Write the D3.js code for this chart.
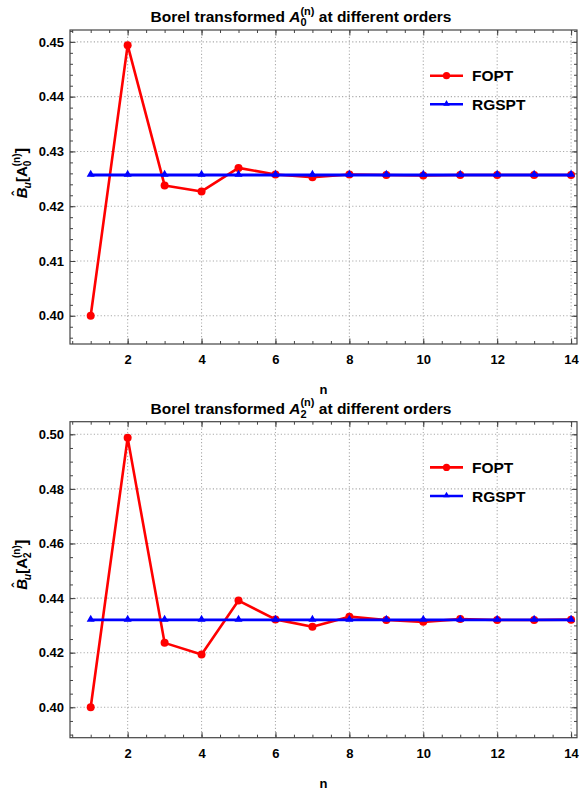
<!DOCTYPE html>
<html>
<head>
<meta charset="utf-8">
<script src="https://cdn.jsdelivr.net/npm/d3@7"></script>
<style>
body { margin: 0; background: #fff; }
text { font-family: "Liberation Sans", Arial, sans-serif; font-weight: bold; fill: #000; }
</style>
</head>
<body>
<svg width="579" height="793"></svg>
<script>
var orders = [1, 2, 3, 4, 5, 6, 7, 8, 9, 10, 11, 12, 13, 14];

// A0 panel
var foptA0 = [0.4000, 0.4494, 0.4238, 0.4227, 0.4270, 0.4258, 0.4253, 0.4258, 0.4257, 0.4256, 0.4257, 0.4257, 0.4257, 0.4257];
var rgsptA0 = [0.4257, 0.4257, 0.4257, 0.4257, 0.4257, 0.4257, 0.4257, 0.4257, 0.4257, 0.4257, 0.4257, 0.4257, 0.4257, 0.4257];

// A2 panel
var foptA2 = [0.4000, 0.4987, 0.4236, 0.4193, 0.4391, 0.4322, 0.4295, 0.4332, 0.4320, 0.4313, 0.4323, 0.4320, 0.4320, 0.4321];
var rgsptA2 = [0.4320, 0.4320, 0.4320, 0.4320, 0.4320, 0.4320, 0.4320, 0.4320, 0.4320, 0.4320, 0.4320, 0.4320, 0.4320, 0.4320];

var xTicks = [2, 4, 6, 8, 10, 12, 14];
var yTicksA0 = [0.40, 0.41, 0.42, 0.43, 0.44, 0.45];
var yTicksA2 = [0.40, 0.42, 0.44, 0.46, 0.48, 0.50];
var seriesNames = ["FOPT", "RGSPT"];
var seriesColors = ["#ff0000", "#0000ff"];

var svg = d3.select("svg");

var left = 70, right = 577;
var x = d3.scaleLinear().domain([0.44, 14.16]).range([left, right]);

var panels = [
    {top: 30, bottom: 344, ydom: [0.39485, 0.45217], yTicks: yTicksA0, minor: 0.002, fopt: foptA0, rgspt: rgsptA0, sub: "0"},
    {top: 421.7, bottom: 737.7, ydom: [0.38886, 0.50462], yTicks: yTicksA2, minor: 0.005, fopt: foptA2, rgspt: rgsptA2, sub: "2"}
];

panels.forEach(drawPanel);

function range(lo, hi, step) {
    var out = [];
    for (var v = Math.ceil(lo / step - 1e-9) * step; v <= hi + 1e-9; v += step) out.push(+v.toFixed(5));
    return out;
}

function drawPanel(p) {
    var g = svg.append("g");
    var y = d3.scaleLinear().domain(p.ydom).range([p.bottom, p.top]);

    // dotted grid
    g.append("g").selectAll("line").data(xTicks).join("line")
        .attr("x1", d => x(d)).attr("x2", d => x(d))
        .attr("y1", p.top).attr("y2", p.bottom)
        .attr("stroke", "#ababab").attr("stroke-width", 1.1)
        .attr("stroke-dasharray", "1.2,2.2");
    g.append("g").selectAll("line").data(p.yTicks).join("line")
        .attr("x1", left).attr("x2", right)
        .attr("y1", d => y(d)).attr("y2", d => y(d))
        .attr("stroke", "#ababab").attr("stroke-width", 1.1)
        .attr("stroke-dasharray", "1.2,2.2");

    var xMinor = range(0.5, 14.1, 0.5);
    var yMinor = range(p.ydom[0], p.ydom[1], p.minor);

    // frame axes, ticks pointing inwards
    function axis(gen, tx, ty, scale, major, minorVals, labels) {
        var a = g.append("g").attr("transform", "translate(" + tx + "," + ty + ")");
        a.call(gen(scale).tickValues(minorVals).tickSize(-3).tickFormat(""));
        var b = g.append("g").attr("transform", "translate(" + tx + "," + ty + ")");
        var ax = gen(scale).tickValues(major).tickSizeInner(-5.5).tickSizeOuter(0);
        if (labels) ax.tickFormat(labels);
        else ax.tickFormat("");
        b.call(ax);
        [a, b].forEach(s => {
            s.select(".domain").remove();
            s.selectAll("line").attr("stroke", "#444").attr("stroke-width", 1);
        });
        return b;
    }
    var bx = axis(d3.axisBottom, 0, p.bottom, x, xTicks, xMinor, d3.format("d"));
    bx.selectAll("text").attr("y", 11).attr("font-size", 13).attr("font-family", null);
    axis(d3.axisTop, 0, p.top, x, xTicks, xMinor, null);
    var ly = axis(d3.axisLeft, left, 0, y, p.yTicks, yMinor, d3.format(".2f"));
    ly.selectAll("text").attr("x", -6).attr("font-size", 13).attr("font-family", null);
    axis(d3.axisRight, right, 0, y, p.yTicks, yMinor, null);

    g.append("rect")
        .attr("x", left).attr("y", p.top)
        .attr("width", right - left).attr("height", p.bottom - p.top)
        .attr("fill", "none").attr("stroke", "#444").attr("stroke-width", 1.2);

    // series
    var line = d3.line().x((d, i) => x(orders[i])).y(d => y(d));
    g.append("path").datum(p.fopt)
        .attr("d", line).attr("fill", "none")
        .attr("stroke", seriesColors[0]).attr("stroke-width", 2.6).attr("stroke-linejoin", "round");
    g.append("g").selectAll("circle").data(p.fopt).join("circle")
        .attr("cx", (d, i) => x(orders[i])).attr("cy", d => y(d))
        .attr("r", 4).attr("fill", seriesColors[0]);

    g.append("path").datum(p.rgspt)
        .attr("d", line).attr("fill", "none")
        .attr("stroke", seriesColors[1]).attr("stroke-width", 2.8);
    var tri = d3.symbol().type(d3.symbolTriangle).size(28);
    g.append("g").selectAll("path").data(p.rgspt).join("path")
        .attr("transform", (d, i) => "translate(" + x(orders[i]) + "," + (y(d) - 0.5) + ")")
        .attr("d", tri).attr("fill", seriesColors[1]);

    // legend
    var leg = g.append("g").attr("transform", "translate(430," + p.top + ")");
    seriesNames.forEach(function(name, i) {
        var ly0 = 45.7 + i * 28.6;
        leg.append("line").attr("x1", 0).attr("x2", 33).attr("y1", ly0).attr("y2", ly0)
            .attr("stroke", seriesColors[i]).attr("stroke-width", 2.6);
        if (i === 0) leg.append("circle").attr("cx", 16.5).attr("cy", ly0).attr("r", 3.6).attr("fill", seriesColors[i]);
        else leg.append("path").attr("transform", "translate(16.5," + (ly0 - 0.5) + ")")
            .attr("d", d3.symbol().type(d3.symbolTriangle).size(18)).attr("fill", seriesColors[i]);
        leg.append("text").attr("x", 42).attr("y", ly0 + 5.6).attr("font-size", 15.5).text(name);
    });

    // x label
    g.append("text").attr("x", (left + right) / 2).attr("y", p.bottom + 50)
        .attr("text-anchor", "middle").attr("font-size", 13).text("n");

    // title
    var t = g.append("text").attr("x", 301).attr("y", p.top - 8)
        .attr("text-anchor", "middle").attr("font-size", 15.5);
    t.append("tspan").text("Borel transformed ");
    t.append("tspan").attr("font-style", "italic").text("A");
    t.append("tspan").attr("font-size", 11).attr("dy", 4).text(p.sub);
    t.append("tspan").attr("font-size", 11).attr("dx", -6.1).attr("dy", -11.5).text("(n)");
    t.append("tspan").attr("dy", 7.5).text(" at different orders");

    // y label
    var yl = g.append("text")
        .attr("transform", "translate(27," + (p.top + 143) + ") rotate(-90)")
        .attr("text-anchor", "middle").attr("font-size", 15);
    yl.append("tspan").attr("font-style", "italic").text("B");
    yl.append("tspan").attr("font-size", 14).attr("dx", -8.5).attr("dy", -4.5).text("\u02c6");
    yl.append("tspan").attr("font-style", "italic").attr("font-size", 10.5).attr("dx", 2.6).attr("dy", 8).text("u");
    yl.append("tspan").attr("dy", -3.5).text("[A");
    yl.append("tspan").attr("font-size", 10).attr("dy", 3.5).text(p.sub);
    yl.append("tspan").attr("font-size", 10).attr("dx", -5.6).attr("dy", -10.5).text("(n)");
    yl.append("tspan").attr("font-size", 17).attr("dy", 7).text("]");
}
</script>
</body>
</html>
